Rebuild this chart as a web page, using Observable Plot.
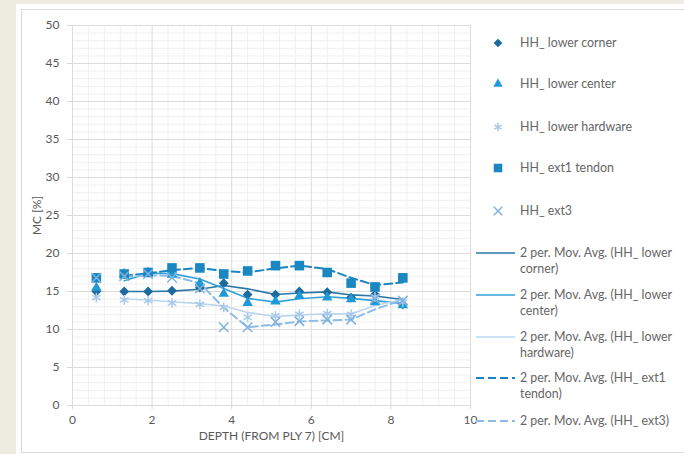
<!DOCTYPE html>
<html><head><meta charset="utf-8">
<script src="https://cdn.jsdelivr.net/npm/d3@7"></script>
<script src="https://cdn.jsdelivr.net/npm/@observablehq/plot@0.6"></script>
<style>
body{margin:0;background:#eeebe1;font-family:Lato,"Open Sans",sans-serif;}
#page{position:relative;width:684px;height:454px;overflow:hidden;}
#card{position:absolute;left:16px;top:4px;width:700px;height:460px;background:#fff;}
#border{position:absolute;left:21px;top:9px;width:700px;height:444px;border:1px solid #d9d9d9;box-sizing:border-box;}
#chart{position:absolute;left:0;top:0;}
.leg{position:absolute;font-size:12.4px;color:#666666;line-height:16px;white-space:nowrap;}
.sw{position:absolute;overflow:visible;}
</style></head><body>
<div id="page"><div id="card"></div><div id="border"></div><div id="chart"></div><div id="legend"></div></div>
<script>
// ---- data ----
const depth = [0.6, 1.3, 1.9, 2.5, 3.2, 3.8, 4.4, 5.1, 5.7, 6.4, 7.0, 7.6, 8.3];
const lowerCorner   = [15.0, 15.0, 15.0, 15.1, 15.5, 16.1, 14.6, 14.6, 15.0, 14.9, 14.2, 14.6, 13.3];
const lowerCenter   = [15.5, 17.3, 17.5, 17.2, 16.1, 14.7, 13.5, 13.7, 14.4, 14.2, 14.0, 13.6, 13.2];
const lowerHardware = [14.2, 13.9, 13.8, 13.5, 13.3, 12.9, 11.6, 11.8, 12.0, 12.1, 12.0, 14.3, 13.6];
const ext1Tendon    = [16.8, 17.3, 17.5, 18.1, 18.1, 17.3, 17.7, 18.4, 18.4, 17.5, 16.1, 15.6, 16.8];
const ext3          = [16.8, 17.0, 17.3, 16.8, 15.4, 10.3, 10.3, 11.0, 11.1, 11.3, 11.3, 14.0, 13.8];
const seriesNames = ["HH_ lower corner", "HH_ lower center", "HH_ lower hardware", "HH_ ext1 tendon", "HH_ ext3"];
const seriesValues = [lowerCorner, lowerCenter, lowerHardware, ext1Tendon, ext3];
const trendNames = ["2 per. Mov. Avg. (HH_ lower|corner)", "2 per. Mov. Avg. (HH_ lower|center)", "2 per. Mov. Avg. (HH_ lower|hardware)", "2 per. Mov. Avg. (HH_ ext1|tendon)", "2 per. Mov. Avg. (HH_ ext3)"];
const xTicks = [0, 2, 4, 6, 8, 10];
const yTicks = [0, 5, 10, 15, 20, 25, 30, 35, 40, 45, 50];
const xMinor = [0.4, 0.8, 1.2, 1.6, 2.4, 2.8, 3.2, 3.6, 4.4, 4.8, 5.2, 5.6, 6.4, 6.8, 7.2, 7.6, 8.4, 8.8, 9.2, 9.6];
const yMinor = d3.range(0, 51).filter(v => v % 5 !== 0);

// ---- styles ----
const styles = [
  {symbol: "square", rotate: 45, r: 3.9, fill: "#1c6a9e", line: "#2a77a5", dash: null, lw: 1.6},
  {symbol: "triangle", rotate: 0, r: 3.9, fill: "#1f9ad6", line: "#34a0d8", dash: null, lw: 1.6},
  {symbol: "asterisk", rotate: 0, r: 4.6, stroke: "#a9c9e9", line: "#bcd6f0", dash: null, lw: 1.6},
  {symbol: "square", rotate: 0, r: 5.4, fill: "#1a87c1", line: "#1a86c0", dash: "8,4", lw: 2},
  {symbol: "times", rotate: 0, r: 4.4, stroke: "#7fb2de", line: "#8fbce6", dash: "8,4", lw: 2}
];

const rows = seriesNames.map((name, i) => depth.map((d, j) => ({series: name, depth: d, mc: seriesValues[i][j]})));

const marks = [
  Plot.gridY(yMinor, {stroke: "#f0f0f0", strokeOpacity: 1}),
  Plot.gridX(xMinor, {stroke: "#f0f0f0", strokeOpacity: 1}),
  Plot.gridY(yTicks, {stroke: "#dcdcdc", strokeOpacity: 1}),
  Plot.gridX(xTicks, {stroke: "#dcdcdc", strokeOpacity: 1}),
  Plot.axisY(yTicks, {tickSize: 5, tickPadding: 8, stroke: "#d9d9d9", fill: "#595959", label: "MC [%]", labelAnchor: "center", labelOffset: 40, labelArrow: "none"}),
  Plot.axisX(xTicks, {tickSize: 4, tickPadding: 6, stroke: "#d9d9d9", fill: "#595959", label: "DEPTH (FROM PLY 7) [CM]", labelAnchor: "center", labelOffset: 34, labelArrow: "none"})
];
styles.forEach((s, i) => {
  marks.push(Plot.lineY(rows[i], Plot.windowY({k: 2, anchor: "end", strict: true}, {x: "depth", y: "mc", stroke: s.line, strokeWidth: s.lw, strokeDasharray: s.dash, curve: "linear"})));
});
styles.forEach((s, i) => {
  const o = {x: "depth", y: "mc", symbol: s.symbol, r: s.r, rotate: s.rotate};
  if (s.fill) { o.fill = s.fill; o.stroke = "none"; } else { o.stroke = s.stroke; o.fill = "none"; o.strokeWidth = 1.5; }
  marks.push(Plot.dot(rows[i], o));
});

const chart = Plot.plot({
  width: 684, height: 454,
  marginLeft: 72, marginRight: 214, marginTop: 25, marginBottom: 49,
  style: {background: "transparent", fontFamily: "Lato, 'Open Sans', sans-serif", fontSize: "12px", color: "#595959"},
  x: {domain: [0, 10], axis: null},
  y: {domain: [0, 50], axis: null},
  marks
});
document.getElementById("chart").append(chart);

// ---- legend ----
const leg = d3.select("#legend");
const markerY = [43, 84, 127, 168, 211];
const lineY = [253, 295, 337, 378, 421];
styles.forEach((s, i) => {
  const cy = markerY[i];
  const svg = leg.append("svg").attr("class", "sw").attr("width", 14).attr("height", 14)
    .style("left", (497.5 - 7) + "px").style("top", (cy - 7) + "px");
  const sym = {square: d3.symbolSquare, triangle: d3.symbolTriangle, asterisk: d3.symbolAsterisk, times: d3.symbolTimes}[s.symbol];
  const p = svg.append("path").attr("d", d3.symbol(sym, Math.PI * s.r * s.r * 0.8)())
    .attr("transform", `translate(7,7) rotate(${s.rotate})`);
  if (s.fill) p.attr("fill", s.fill); else p.attr("fill", "none").attr("stroke", s.stroke).attr("stroke-width", 1.5);
  leg.append("div").attr("class", "leg").style("left", "520px").style("top", (cy - 8) + "px").text(seriesNames[i]);
});
styles.forEach((s, i) => {
  const cy = lineY[i];
  const svg = leg.append("svg").attr("class", "sw").attr("width", 40).attr("height", 4)
    .style("left", "476px").style("top", (cy - 2) + "px");
  svg.append("line").attr("x1", 0).attr("x2", 39).attr("y1", 2).attr("y2", 2)
    .attr("stroke", s.line).attr("stroke-width", s.lw).attr("stroke-dasharray", s.dash);
  leg.append("div").attr("class", "leg").style("left", "520px").style("top", (cy - 8) + "px")
    .html(trendNames[i].split("|").join("<br>"));
});
</script>
</body></html>
